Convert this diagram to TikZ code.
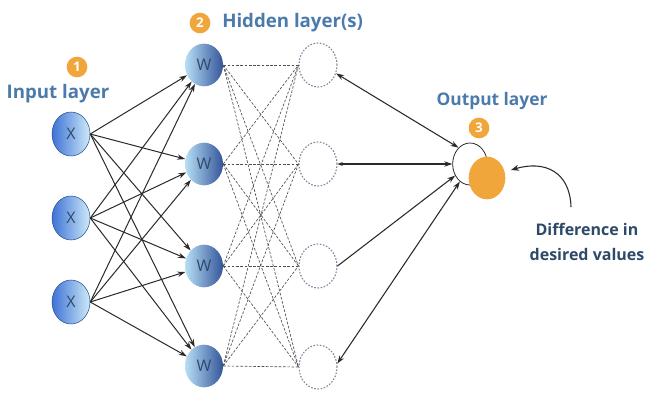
\documentclass[tikz,border=0pt]{standalone}
\usepackage{fontspec}
\setmainfont{Open Sans}
\usetikzlibrary{shapes.geometric,arrows.meta}
\definecolor{lblue}{HTML}{4B7BAA}
\definecolor{dtext}{HTML}{2F4A68}
\definecolor{orng}{HTML}{F0A63A}
\definecolor{edgec}{HTML}{2A2A2A}
\definecolor{dashc}{HTML}{505050}
\definecolor{hidc}{HTML}{8A7D9C}
\definecolor{xleft}{HTML}{3F72D6}
\definecolor{xright}{HTML}{CDEBF8}
\definecolor{wleft}{HTML}{B8DFF6}
\definecolor{wright}{HTML}{33559A}
\tikzset{
  xnode/.style={ellipse, minimum width=28.5pt, minimum height=33pt, inner sep=0pt,
    left color=xleft, right color=xright, draw=xleft!70!black, line width=0.4pt,
    font=\fontsize{12}{14}\selectfont, text=dtext},
  wnode/.style={ellipse, minimum width=28.5pt, minimum height=32pt, inner sep=0pt,
    left color=wleft, right color=wright, draw=none,
    font=\fontsize{12}{14}\selectfont, text=dtext},
  hnode/.style={ellipse, minimum width=28.5pt, minimum height=33pt, inner sep=0pt,
    draw=hidc, line width=0.8pt, dash pattern=on 1.2pt off 1.2pt, fill=white},
  badge/.style={circle, fill=orng, minimum size=15.5pt, inner sep=0pt,
    text=white, font=\fontsize{10}{12}\selectfont\bfseries},
  lbl/.style={text=lblue, font=\fontsize{14}{17}\selectfont\bfseries, inner sep=0pt},
  fwd/.style={draw=edgec, line width=0.75pt, -{Stealth[length=6pt,width=4pt]}},
  dline/.style={draw=dashc, line width=0.5pt, dash pattern=on 2pt off 1.2pt},
  outl/.style={draw=edgec, line width=0.8pt},
}
\begin{document}
\begin{tikzpicture}[x=0.75pt,y=-0.75pt]
\useasboundingbox[fill=white] (0,0) rectangle (646,396);
% input layer
\node[xnode] (x1) at (71,134) {X};
\node[xnode] (x2) at (71,218) {X};
\node[xnode] (x3) at (71,302) {X};
% hidden W
\node[wnode] (w1) at (204,65) {W};
\node[wnode] (w2) at (204,164) {W};
\node[wnode] (w3) at (204,266) {W};
\node[wnode] (w4) at (204,366) {W};
% hidden dashed
\node[hnode] (h1) at (318,65) {};
\node[hnode] (h2) at (318,164) {};
\node[hnode] (h3) at (318,266) {};
\node[hnode] (h4) at (318,367) {};
% output
\node[ellipse, draw=edgec, line width=0.6pt, fill=white, minimum width=26pt, minimum height=31.5pt] (out) at (470,164) {};
\node[ellipse, fill=orng, minimum width=27.5pt, minimum height=32pt] (outo) at (487,178) {};
% labels
\node[badge] (b1) at (77,67) {1};
\node[lbl] (t1) at (58,94) {Input layer};
\node[badge] (b2) at (200,23) {2};
\node[lbl, anchor=west] (t2) at (222,23) {Hidden layer(s)};
\node[lbl, font=\fontsize{13}{16}\selectfont\bfseries] (t3) at (492,101) {Output layer};
\node[badge] (b3) at (479,128) {3};
\node[text=dtext, font=\fontsize{12}{18.75}\selectfont\bfseries, align=center, inner sep=0pt] (diff) at (587,242) {Difference in\\desired values};
% input -> hidden
\foreach \i in {1,2,3}{
  \foreach \j in {1,2,3,4}{
    \draw[fwd] (x\i.east) -- (w\j);
  }
}
% W -> dashed
\foreach \i in {1,2,3,4}{
  \foreach \j in {1,2,3,4}{
    \draw[dline] (w\i.east) -- (h\j.west);
  }
}
% hidden -> output
\draw[outl, {Stealth[length=6pt,width=4pt]}-{Stealth[length=6pt,width=4pt]}] (h1.-25) -- (out.125);
\draw[outl, {Stealth[length=4pt,width=3pt]}-{Stealth[length=6pt,width=4pt]}] (h2.east) -- (out.180);
\draw[outl, -{Stealth[length=6pt,width=4pt]}] (h3.east) -- (out.218);
\draw[outl, {Stealth[length=6pt,width=4pt]}-{Stealth[length=6pt,width=4pt]}] (h4.10) -- (out.240);
% curved arrow
\coordinate (cs) at (571,207);
\coordinate (ce) at (511,170);
\draw[outl, -{Stealth[length=6pt,width=4.5pt]}] (cs) .. controls (570,172) and (545,160) .. (ce);
\end{tikzpicture}
\end{document}
